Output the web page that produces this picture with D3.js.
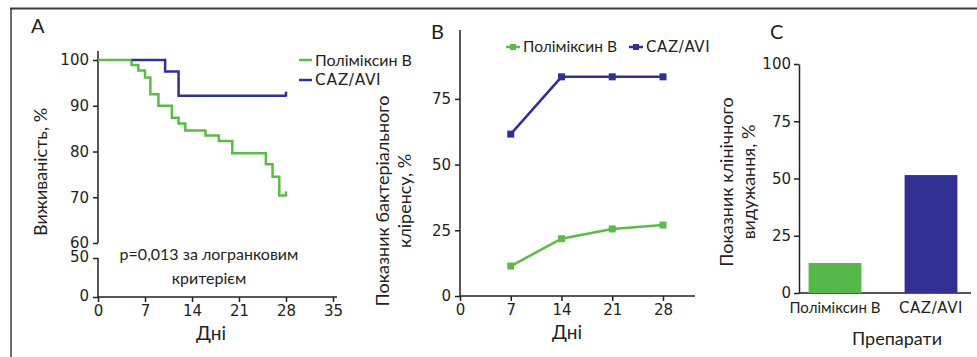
<!DOCTYPE html>
<html>
<head>
<meta charset="utf-8">
<script src="https://cdn.jsdelivr.net/npm/d3@7"></script>
<style>
  body { margin: 0; background: #fff; }
  svg text { font-family: Lato, "Noto Sans", sans-serif; fill: #231f20; }
</style>
</head>
<body>
<svg id="chart" width="977" height="357"></svg>
<script>
// panel A – Kaplan-Meier survival (day, %)
const polyKM = [[0, 100], [5, 98.9], [6, 97.7], [7, 96.2], [7.8, 92.5], [9, 90], [11, 87.4], [12, 86.1],
  [13, 84.6], [16, 83.5], [18, 82.3], [20, 79.6], [25, 77.2], [26, 74.5], [27, 70.4]];
const cazKM = [[5, 100], [10, 97.5], [12, 92.2]];
const kmEnd = 28;
const kmDaysTicks = [0, 7, 14, 21, 28, 35];
const kmUpperTicks = [60, 70, 80, 90, 100];
const kmLowerTicks = [0, 50];

// panel B – bacterial clearance (%)
const clearDays = [7, 14, 21, 28];
const polyClear = [11.4, 21.8, 25.5, 27];
const cazClear = [61.6, 83.4, 83.4, 83.4];
const clearTicks = [0, 25, 50, 75];
const clearDayTicks = [0, 7, 14, 21, 28];

// panel C – clinical recovery (%)
const drugs = ['Поліміксин В', 'CAZ/AVI'];
const recovery = [13.1, 51.5];
const recoveryTicks = [0, 25, 50, 75, 100];

const green = '#5bbb47';
const blue = '#2e3192';
const ink = '#231f20';
const numFont = '"DejaVu Sans", sans-serif';

const svg = d3.select('#chart');

// frame
svg.append('line').attr('x1', 10).attr('x2', 977).attr('y1', 8.5).attr('y2', 8.5)
  .attr('stroke', '#3a3a3a').attr('stroke-width', 2);
svg.append('line').attr('x1', 11).attr('x2', 11).attr('y1', 8).attr('y2', 357)
  .attr('stroke', '#3a3a3a').attr('stroke-width', 1.5);

function styleAxis(g) {
  g.select('.domain').attr('stroke', ink).attr('stroke-width', 1.5);
  g.selectAll('.tick line').attr('stroke', ink).attr('stroke-width', 1.5);
  g.selectAll('.tick text').attr('font-size', 15).style('font-family', numFont).attr('fill', ink);
}

function panelLabel(x, y, t) {
  svg.append('text').attr('x', x).attr('y', y).attr('font-size', 20).text(t);
}

function capsText(sel) {
  // the CAZ/AVI name is set wider in the original
  sel.style('font-family', numFont).attr('letter-spacing', 0.6);
}

// ---------- A ----------
const xA = d3.scaleLinear().domain([0, 35]).range([98, 333]);
const yA = d3.scaleLinear().domain([60, 100]).range([243, 60]);
const yA2 = d3.scaleLinear().domain([0, 50]).range([297, 258]);

panelLabel(31, 33, 'A');

svg.append('g').attr('transform', 'translate(98,0)')
  .call(d3.axisLeft(yA).tickValues(kmUpperTicks).tickSize(5).tickSizeOuter(0).tickPadding(4))
  .call(g => g.select('.domain').attr('d', `M0,51V${yA(60)}`))
  .call(styleAxis);
svg.append('g').attr('transform', 'translate(98,0)')
  .call(d3.axisLeft(yA2).tickValues(kmLowerTicks).tickSize(5).tickSizeOuter(0).tickPadding(4))
  .call(g => g.select('.domain').attr('d', `M0,${yA2(50)}V${yA2(0)}`))
  .call(styleAxis)
  .call(g => g.selectAll('.tick text').attr('dy', '0.25em'));
svg.append('g').attr('transform', 'translate(0,297)')
  .call(d3.axisBottom(xA).tickValues(kmDaysTicks).tickSize(5).tickSizeOuter(0).tickPadding(3))
  .call(g => g.select('.domain').attr('d', `M${xA(0)},0H337`))
  .call(styleAxis);

const kmLine = d3.line().curve(d3.curveStepAfter).x(d => xA(d[0])).y(d => yA(d[1]));
function kmCurve(data, color) {
  const pts = data.concat([[kmEnd, data[data.length - 1][1]]]);
  svg.append('path').attr('d', kmLine(pts)).attr('fill', 'none')
    .attr('stroke', color).attr('stroke-width', 2.5);
  const last = pts[pts.length - 1];
  svg.append('line').attr('x1', xA(last[0])).attr('x2', xA(last[0]))
    .attr('y1', yA(last[1]) + 1).attr('y2', yA(last[1]) - 4)
    .attr('stroke', color).attr('stroke-width', 2.5);
}
kmCurve(polyKM, green);
kmCurve(cazKM, blue);

[[drugs[0], green, 60], [drugs[1], blue, 80]].forEach(([t, c, y], i) => {
  svg.append('line').attr('x1', 299).attr('x2', 312).attr('y1', y).attr('y2', y)
    .attr('stroke', c).attr('stroke-width', 2.5);
  const tx = svg.append('text').attr('x', 315).attr('y', y).attr('dy', '0.35em').attr('font-size', 16).text(t);
  if (i === 1) capsText(tx.attr('font-size', 15.5));
});

svg.append('text').attr('transform', 'translate(47,172) rotate(-90)')
  .attr('text-anchor', 'middle').attr('font-size', 18).text('Виживаність, %');
svg.append('text').attr('x', 209).attr('y', 260).attr('text-anchor', 'middle')
  .attr('font-size', 16).text('p=0,013 за логранковим');
svg.append('text').attr('x', 209).attr('y', 284).attr('text-anchor', 'middle')
  .attr('font-size', 16).text('критерієм');
svg.append('text').attr('x', 211).attr('y', 340).attr('text-anchor', 'middle')
  .attr('font-size', 19).text('Дні');

// ---------- B ----------
const xB = d3.scaleLinear().domain([0, 28]).range([460, 663]);
const yB = d3.scaleLinear().domain([0, 25]).range([296, 230.3]);

panelLabel(431, 39, 'B');

svg.append('g').attr('transform', 'translate(460,0)')
  .call(d3.axisLeft(yB).tickValues(clearTicks).tickSize(5).tickSizeOuter(0).tickPadding(4))
  .call(g => g.select('.domain').attr('d', `M0,30V${yB(0)}`))
  .call(styleAxis);
svg.append('g').attr('transform', 'translate(0,296)')
  .call(d3.axisBottom(xB).tickValues(clearDayTicks).tickSize(5).tickSizeOuter(0).tickPadding(3))
  .call(g => g.select('.domain').attr('d', `M${xB(0)},0H695`))
  .call(styleAxis);

const lineB = d3.line().x((d, i) => xB(clearDays[i])).y(d => yB(d));
[[polyClear, green], [cazClear, blue]].forEach(([vals, c]) => {
  svg.append('path').attr('d', lineB(vals)).attr('fill', 'none')
    .attr('stroke', c).attr('stroke-width', 2.5);
  svg.selectAll(null).data(vals).enter().append('rect')
    .attr('x', (d, i) => xB(clearDays[i]) - 3.5).attr('y', d => yB(d) - 3.5)
    .attr('width', 7).attr('height', 7).attr('fill', c);
});

[[drugs[0], green, 506], [drugs[1], blue, 629]].forEach(([t, c, x], i) => {
  svg.append('line').attr('x1', x).attr('x2', x + 14).attr('y1', 47).attr('y2', 47)
    .attr('stroke', c).attr('stroke-width', 2.5);
  svg.append('rect').attr('x', x + 4).attr('y', 44).attr('width', 6).attr('height', 6).attr('fill', c);
  const tx = svg.append('text').attr('x', x + 17).attr('y', 47).attr('dy', '0.35em').attr('font-size', 15.5).text(t);
  if (i === 1) capsText(tx.attr('font-size', 15));
});

svg.append('text').attr('transform', 'translate(389,201) rotate(-90)')
  .attr('text-anchor', 'middle').attr('font-size', 18).text('Показник бактеріального');
svg.append('text').attr('transform', 'translate(411,201) rotate(-90)')
  .attr('text-anchor', 'middle').attr('font-size', 18).text('кліренсу, %');
svg.append('text').attr('x', 567).attr('y', 339).attr('text-anchor', 'middle')
  .attr('font-size', 19).text('Дні');

// ---------- C ----------
const xC = d3.scaleBand().domain(drugs).range([799, 967]).paddingInner(0.45).paddingOuter(0.1);
const yC = d3.scaleLinear().domain([0, 100]).range([293, 64]);

panelLabel(770, 39, 'C');

svg.append('g').attr('transform', 'translate(799,0)')
  .call(d3.axisLeft(yC).tickValues(recoveryTicks).tickSize(5).tickSizeOuter(0).tickPadding(3))
  .call(styleAxis);
svg.append('g').attr('transform', 'translate(0,293)')
  .call(d3.axisBottom(xC).tickSize(0).tickPadding(9))
  .call(g => g.select('.domain').attr('d', 'M799,0H971'))
  .call(styleAxis)
  .call(g => g.selectAll('.tick text').attr('font-size', 15).style('font-family', null))
  .call(g => g.selectAll('.tick text').filter(d => d === 'CAZ/AVI').call(capsText));

svg.selectAll(null).data(recovery).enter().append('rect')
  .attr('x', (d, i) => xC(drugs[i])).attr('width', xC.bandwidth())
  .attr('y', d => yC(d)).attr('height', d => yC(0) - yC(d))
  .attr('fill', (d, i) => i === 0 ? '#55b848' : '#303192');

svg.append('text').attr('transform', 'translate(733,182) rotate(-90)')
  .attr('text-anchor', 'middle').attr('font-size', 18).text('Показник клінічного');
svg.append('text').attr('transform', 'translate(755,182) rotate(-90)')
  .attr('text-anchor', 'middle').attr('font-size', 18).text('видужання, %');
svg.append('text').attr('x', 897).attr('y', 345).attr('text-anchor', 'middle')
  .attr('font-size', 18).text('Препарати');
</script>
</body>
</html>
